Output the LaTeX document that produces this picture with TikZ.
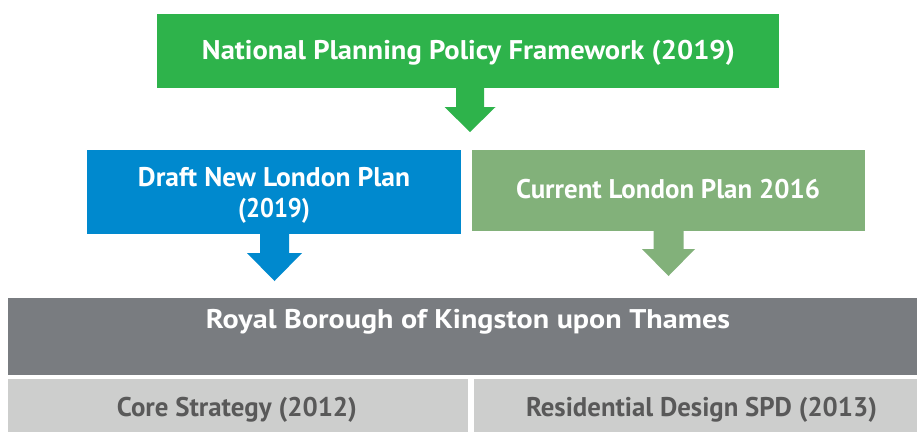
\documentclass[tikz,border=0pt]{standalone}
\usepackage{fontspec}
\setmainfont{PT Sans}
\usepackage{graphicx}
\usetikzlibrary{calc}
\definecolor{nppfgreen}{HTML}{2EB34B}
\definecolor{lpblue}{HTML}{0089CE}
\definecolor{sage}{HTML}{82B17A}
\definecolor{darkgrey}{HTML}{797C80}
\definecolor{lightgrey}{HTML}{CDCECD}
\definecolor{greytext}{HTML}{595959}
\newcommand{\fitw}[2]{\resizebox{#1}{\height}{#2}}
\begin{document}
\begin{tikzpicture}[x=1pt,y=-1pt,
  box/.style={rectangle, inner sep=0pt, outer sep=0pt, draw=none},
  txt/.style={text=white, font=\bfseries\fontsize{27}{32}\selectfont, inner sep=0pt, text height=18.9pt, text depth=0pt, anchor=center},
  dtxt/.style={txt, text=greytext}]
\useasboundingbox[fill=white] (0,0) rectangle (917,432);
% boxes
\node[box, fill=nppfgreen, minimum width=622pt, minimum height=74pt] (nppf) at (468,51) {};
\node[box, fill=lpblue, minimum width=374pt, minimum height=84pt] (draft) at (274,192) {};
\node[box, fill=sage, minimum width=393pt, minimum height=81pt] (current) at (668.5,190.5) {};
\node[box, fill=darkgrey, minimum width=909pt, minimum height=77pt] (rbk) at (462.5,336.5) {};
\node[box, fill=lightgrey, minimum width=460pt, minimum height=53pt] (core) at (238,405.5) {};
\node[box, fill=lightgrey, minimum width=443pt, minimum height=53pt] (rdspd) at (695.5,405.5) {};
% texts
\node[txt] (nppft) at (468.5,50) {\fitw{533pt}{National Planning Policy Framework (2019)}};
\node[txt] (draftt1) at (274,177) {\fitw{272pt}{Draft New London Plan}};
\node[txt] (draftt2) at (274,208.5) {\fitw{72pt}{(2019)}};
\node[txt] (currentt) at (668,189) {\fitw{304pt}{Current London Plan 2016}};
\node[txt] (rbkt) at (468,319) {\fitw{524pt}{Royal Borough of Kingston upon Thames}};
\node[dtxt] (coret) at (237,407) {\fitw{240pt}{Core Strategy (2012)}};
\node[dtxt] (rdspdt) at (701.5,407) {\fitw{351pt}{Residential Design SPD (2013)}};
% block arrows
\fill[nppfgreen] ([xshift=-12pt]nppf.south) -- ++(0,19) -- ++(-11.5,0) -- ++(25.5,25) -- ++(25.5,-25) -- ++(-11.5,0) -- ++(0,-19) -- cycle;
\fill[lpblue] ([xshift=-14pt]draft.south) -- ++(0,19) -- ++(-13,0) -- ++(27.5,28) -- ++(27.5,-28) -- ++(-13,0) -- ++(0,-19) -- cycle;
\fill[sage] ([xshift=-15pt]current.south) -- ++(0,18) -- ++(-11.5,0) -- ++(26.5,27) -- ++(26.5,-27) -- ++(-11.5,0) -- ++(0,-18) -- cycle;
\end{tikzpicture}
\end{document}
